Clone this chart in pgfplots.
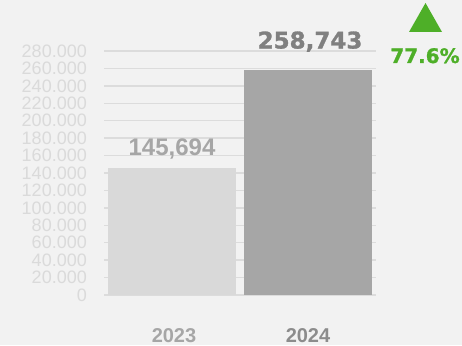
\documentclass[border=0pt]{standalone}
\usepackage{pgfplots}
\pgfplotsset{compat=1.18}
\usepackage{fontspec}
\setmainfont{Liberation Sans}
\newfontfamily\heavy{DejaVu Sans}[BoldFeatures={FakeBold=1.2}]
\definecolor{bgc}{HTML}{F2F2F2}
\definecolor{gridc}{HTML}{DCDCDC}
\definecolor{tickc}{HTML}{DADADA}
\definecolor{barA}{HTML}{D9D9D9}
\definecolor{barB}{HTML}{A6A6A6}
\definecolor{labA}{HTML}{A6A6A6}
\definecolor{labB}{HTML}{808080}
\definecolor{yearA}{HTML}{A6A6A6}
\definecolor{yearB}{HTML}{8C8C8C}
\definecolor{greenc}{HTML}{4EAF28}
\begin{document}
\begin{tikzpicture}
\path[use as bounding box, fill=bgc] (0pt,0pt) rectangle (462pt,345pt);
\begin{axis}[
  at={(104pt,50pt)}, anchor=south west,
  scale only axis, width=272pt, height=244pt,
  xmin=0, xmax=2, ymin=0, ymax=280000,
  axis line style={draw=none},
  major tick length=0pt,
  tick style={draw=none},
  xtick={0.5,1.5},
  xticklabels={\hspace*{4pt}\textcolor{yearA}{2023},\textcolor{yearB}{2024}},
  xticklabel style={anchor=base, inner sep=0pt, yshift=-47pt, font=\bfseries\fontsize{20}{20}\selectfont},
  ytick={0,20000,...,280000},
  scaled y ticks=false,
  yticklabel style={anchor=east, inner sep=0pt, xshift=-17pt, font=\fontsize{18}{18}\selectfont, text=tickc,
    /pgf/number format/.cd, fixed, precision=0, 1000 sep={.}, assume math mode=true},
  ymajorgrids,
  grid style={draw=gridc, line width=1.4pt},
]
\addplot[ybar, bar shift=0pt, bar width=0.941, fill=barA, draw=none,
  nodes near coords={\pgfmathprintnumber[fixed, precision=0, 1000 sep={,}, assume math mode=true]{\pgfplotspointmeta}},
  every node near coord/.append style={anchor=base, inner sep=0pt, yshift=13pt, text=labA,
    font=\bfseries\fontsize{24}{24}\selectfont}]
  coordinates {(0.5,145694)};
\addplot[ybar, bar shift=0pt, bar width=0.941, fill=barB, draw=none,
  nodes near coords={\pgfmathprintnumber[fixed, precision=0, 1000 sep={,}, assume math mode=true]{\pgfplotspointmeta}},
  every node near coord/.append style={anchor=base, inner sep=0pt, yshift=21pt, xshift=2pt, text=labB,
    font=\heavy\bfseries\fontsize{23}{23}\selectfont}]
  coordinates {(1.5,258743)};
\end{axis}
\fill[greenc] (409pt,313pt) -- (442pt,313pt) -- (425.5pt,342pt) -- cycle;
\node[anchor=base, inner sep=0pt, text=greenc, font=\heavy\bfseries\fontsize{20}{20}\selectfont] at (425pt,282pt) {77.6\%};
\end{tikzpicture}
\end{document}
